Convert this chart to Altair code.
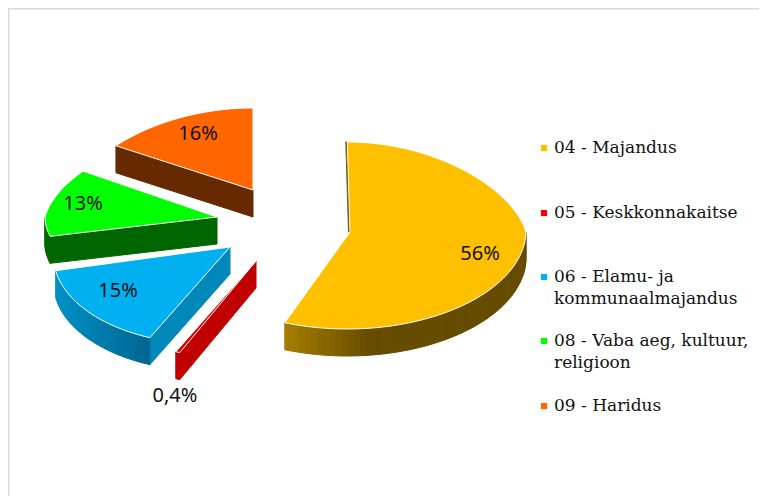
import math
import altair as alt
import pandas as pd

# --- values ---
categories = ["04 - Majandus", "05 - Keskkonnakaitse", "06 - Elamu- ja kommunaalmajandus",
              "08 - Vaba aeg, kultuur, religioon", "09 - Haridus"]
shares = [56, 0.4, 15, 13, 16]
share_labels = ["56%", "0,4%", "15%", "13%", "16%"]
legend_lines = [["04 - Majandus"], ["05 - Keskkonnakaitse"], ["06 - Elamu- ja", "kommunaalmajandus"],
                ["08 - Vaba aeg, kultuur,", "religioon"], ["09 - Haridus"]]

# --- styling and layout (page pixels) ---
top_colors = ["#FFC000", "#E00000", "#00B0F0", "#00FF00", "#FF6600"]
legend_colors = ["#FFC000", "#FF0000", "#00B0F0", "#00FF00", "#FF6600"]
edge_colors = ["#7A5C00", "#C00000", "#0088BB", "#006600", "#662900"]
tips = [(350, 232), (256, 261), (230, 247), (217, 217), (253, 190)]
leans = [-0.03, -0.15, -0.15, 0, 0]
radii_x = [176, 176, 176, 172, 176]
radii_back = [90, 85, 85, 85, 82]
radii_front = [97, 98, 98, 80, 96]
label_at = [(480, 254), (175, 396), (118, 291), (83, 204), (198, 134)]
legend_y = [148, 213, 277, 341, 406]
DEPTH = 27
W, H = 751, 488


def blend(a, b, t):
    t = max(0.0, min(1.0, t))
    pa = [int(a[i:i + 2], 16) for i in (1, 3, 5)]
    pb = [int(b[i:i + 2], 16) for i in (1, 3, 5)]
    return "#" + "".join(f"{round(u + (v - u) * t):02x}" for u, v in zip(pa, pb))


def rim(i, deg):
    """Point on the outer rim of slice i at a clockwise angle from twelve o'clock."""
    r = math.radians(deg)
    c = math.cos(r)
    dy = -c * (radii_back[i] if c > 0 else radii_front[i])
    dx = radii_x[i] * math.sin(r) * (1 - 0.14 * max(c, 0)) + leans[i] * abs(dy)
    return tips[i][0] + dx, tips[i][1] + dy


def side_color(i, x):
    if i == 0:
        return blend("#A67D00", "#664C00", (x - 285) / 85)
    if i == 2:
        return blend("#0090C5", "#00658F", (x - 56) / 94)
    return edge_colors[i]


total = sum(shares)
sides, tops = [], []
paint_order = [4, 3, 2, 1, 0]
start = 0.0
spans = {}
for i, s in enumerate(shares):
    spans[i] = (start, start + s / total * 360)
    start = spans[i][1]

n = 0
for rank, i in enumerate(paint_order):
    a0, a1 = spans[i]
    tip = tips[i]
    # radial face along the slice's first edge
    p = rim(i, a0)
    drop = (-1.5, 0) if i == 0 else (0, DEPTH)
    quad = [tip, p, (p[0] + drop[0], p[1] + drop[1]), (tip[0] + drop[0], tip[1] + drop[1]), tip]
    n += 1
    for k, (x, y) in enumerate(quad):
        sides.append(dict(poly=f"{n:04d}", seq=k, x=x, y=y, color=edge_colors[i]))
    # rim strips on the front half
    lo, hi = max(a0, 90), min(a1, 270)
    d = lo
    while d < hi:
        e = min(d + 2, hi)
        p, q = rim(i, d), rim(i, e)
        n += 1
        col = side_color(i, (p[0] + q[0]) / 2)
        for k, (x, y) in enumerate([p, q, (q[0], q[1] + DEPTH), (p[0], p[1] + DEPTH), p]):
            sides.append(dict(poly=f"{n:04d}", seq=k, x=x, y=y, color=col))
        d = e
    # top face
    pts = [tip]
    steps = max(2, int((a1 - a0) / 2))
    pts += [rim(i, a0 + (a1 - a0) * j / steps) for j in range(steps + 1)]
    pts.append(tip)
    for k, (x, y) in enumerate(pts):
        tops.append(dict(poly=f"{rank:04d}", seq=k, x=x, y=y, color=top_colors[i]))

x_enc = alt.X("x:Q", axis=None, scale=alt.Scale(domain=[8, 8 + W]))
y_enc = alt.Y("y:Q", axis=None, scale=alt.Scale(domain=[8 + H, 8]))

frame = pd.DataFrame({"x": [8.5, 8.5, 8 + W], "y": [8 + H, 8.5, 8.5], "seq": [0, 1, 2]})
frame_layer = alt.Chart(frame).mark_line(color="#D9D9D9", strokeWidth=2, clip=True).encode(
    x=x_enc, y=y_enc, order="seq:Q")

side_layer = alt.Chart(pd.DataFrame(sides)).mark_line(strokeWidth=1, strokeJoin="round").encode(
    x=x_enc, y=y_enc, order="seq:Q", detail="poly:N",
    fill=alt.Fill("color:N", scale=None), stroke=alt.Stroke("color:N", scale=None))

top_layer = alt.Chart(pd.DataFrame(tops)).mark_line(stroke="#FFFFFF", strokeWidth=1, strokeJoin="round").encode(
    x=x_enc, y=y_enc, order="seq:Q", detail="poly:N",
    fill=alt.Fill("color:N", scale=None))

labels = pd.DataFrame({"x": [p[0] for p in label_at], "y": [p[1] for p in label_at], "t": share_labels})
label_layer = alt.Chart(labels).mark_text(font="Noto Sans", fontSize=20, color="#111111").encode(
    x=x_enc, y=y_enc, text="t:N")

keys = pd.DataFrame({"x": [544] * 5, "y": legend_y, "color": legend_colors})
key_layer = alt.Chart(keys).mark_square(size=38, opacity=1).encode(
    x=x_enc, y=y_enc, fill=alt.Fill("color:N", scale=None))

rows = []
for lines, y0 in zip(legend_lines, legend_y):
    for j, line in enumerate(lines):
        rows.append(dict(x=554, y=y0 + j * 22, t=line))
legend_layer = alt.Chart(pd.DataFrame(rows)).mark_text(
    font="DejaVu Serif", fontSize=17, align="left", baseline="middle", color="#111111"
).encode(x=x_enc, y=y_enc, text="t:N")

chart = alt.layer(frame_layer, side_layer, top_layer, label_layer, key_layer, legend_layer).properties(
    width=W, height=H, padding=0, autosize=alt.AutoSizeParams(type="none"), background="#FFFFFF"
).configure_view(stroke=None)

chart.save("out.html", embed_options={"renderer": "svg", "actions": False})
